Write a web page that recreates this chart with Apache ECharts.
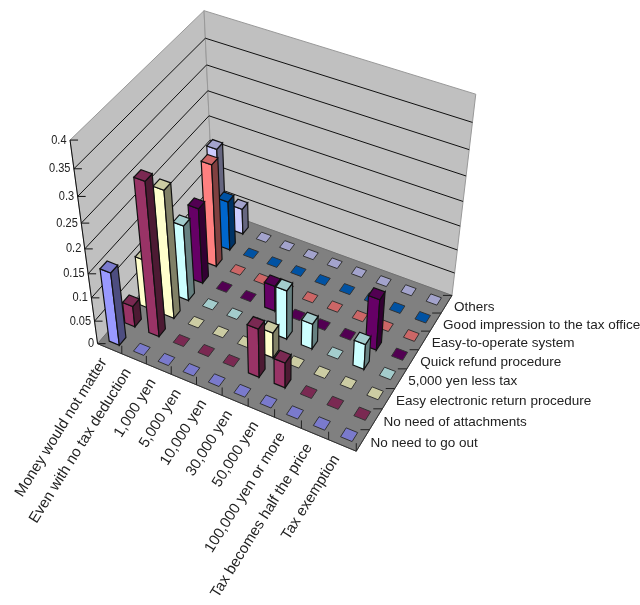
<!DOCTYPE html>
<html>
<head>
<meta charset="utf-8">
<style>html,body{margin:0;padding:0;background:#fff}#chart{width:640px;height:605px}</style>
<script src="https://cdn.jsdelivr.net/npm/echarts@6/dist/echarts.min.js"></script>
</head>
<body>
<div id="chart"></div>
<script>
// Answer categories along the front edge of the floor
var categories = ['Money would not matter', 'Even with no tax deduction', '1,000 yen', '5,000 yen',
  '10,000 yen', '30,000 yen', '50,000 yen', '100,000 yen or more', 'Tax becomes half the price', 'Tax exemption'];

// Reasons along the right edge of the floor, nearest row first
var reasons = ['No need to go out', 'No need of attachments', 'Easy electronic return procedure',
  '5,000 yen less tax', 'Quick refund procedure', 'Easy-to-operate system',
  'Good impression to the tax office', 'Others'];

var noNeedToGoOut    = [0.155, 0, 0, 0, 0, 0, 0, 0, 0, 0];
var noAttachments    = [0.045, 0.315, 0, 0, 0, 0.105, 0.055, 0, 0, 0];
var easyElectronic   = [0.105, 0.265, 0, 0, 0, 0.055, 0, 0, 0, 0];
var lessTax          = [0, 0.16, 0, 0, 0, 0.105, 0.055, 0, 0.055, 0];
var quickRefund      = [0, 0.16, 0, 0, 0.055, 0, 0, 0, 0.11, 0];
var easyToOperate    = [0, 0.215, 0, 0, 0, 0, 0, 0, 0, 0];
var goodImpression   = [0, 0.105, 0, 0, 0, 0, 0, 0, 0, 0];
var others           = [0.165, 0.055, 0, 0, 0, 0, 0, 0, 0, 0];
var rows = [noNeedToGoOut, noAttachments, easyElectronic, lessTax, quickRefund, easyToOperate, goodImpression, others];

var valueTicks = [0, 0.05, 0.1, 0.15, 0.2, 0.25, 0.3, 0.35, 0.4];
var valueTickLabels = ['0', '0.05', '0.1', '0.15', '0.2', '0.25', '0.3', '0.35', '0.4'];
var rowColors = ['#9999FF', '#993366', '#FFFFCC', '#CCFFFF', '#660066', '#FF8080', '#0066CC', '#CCCCFF'];

var valueMax = 0.4;
var barWidth = 0.42;
var FONT_ROW = '13.5px "Liberation Sans", Arial, sans-serif';
var FONT_CATEGORY = '15px "Liberation Sans", Arial, sans-serif';
var FONT_VALUE = '12.5px "Liberation Sans", Arial, sans-serif';

// Camera fit: unit-cube corners and where they land on the page plane
var cameraAnchors = [
  [[0, 0, 0], [97, 343]], [[1, 0, 0], [356, 452]], [[0, 1, 0], [214, 210]], [[1, 1, 0], [452, 294]],
  [[0, 0, 1], [71, 140]], [[0, 1, 1], [203, 10]], [[1, 1, 1], [476, 95]]
];

function solveCamera(anchors) {
  var A = [], b = [];
  anchors.forEach(function (a) {
    var x = a[0][0], y = a[0][1], z = a[0][2], u = a[1][0], v = a[1][1];
    A.push([x, y, z, 1, 0, 0, 0, 0, -u * x, -u * y, -u * z]); b.push(u);
    A.push([0, 0, 0, 0, x, y, z, 1, -v * x, -v * y, -v * z]); b.push(v);
  });
  var n = 11, M = [];
  for (var i = 0; i < n; i++) {
    M.push([]);
    for (var j = 0; j <= n; j++) {
      var s = 0;
      for (var k = 0; k < A.length; k++) s += A[k][i] * (j < n ? A[k][j] : b[k]);
      M[i].push(s);
    }
  }
  for (var c = 0; c < n; c++) {
    var p = c;
    for (var r = c + 1; r < n; r++) if (Math.abs(M[r][c]) > Math.abs(M[p][c])) p = r;
    var t = M[c]; M[c] = M[p]; M[p] = t;
    for (var r2 = 0; r2 < n; r2++) {
      if (r2 === c) continue;
      var f = M[r2][c] / M[c][c];
      for (var q = c; q <= n; q++) M[r2][q] -= f * M[c][q];
    }
  }
  return M.map(function (row, idx) { return row[n] / row[idx]; });
}
var cam = solveCamera(cameraAnchors);

// Category, row and value space to the page plane of the hidden axes
function project(cat, row, value) {
  var x = cat / categories.length, y = row / reasons.length, z = value / valueMax;
  var w = cam[8] * x + cam[9] * y + cam[10] * z + 1;
  return [(cam[0] * x + cam[1] * y + cam[2] * z + cam[3]) / w,
          (cam[4] * x + cam[5] * y + cam[6] * z + cam[7]) / w];
}

function shade(hex, k) {
  var n = parseInt(hex.slice(1), 16);
  var ch = [n >> 16, (n >> 8) & 255, n & 255].map(function (c) { return Math.round(c * k); });
  return 'rgb(' + ch.join(',') + ')';
}

function poly(api, pts, fill, stroke, lw) {
  return {
    type: 'polygon',
    shape: { points: pts.map(function (p) { return api.coord(p); }) },
    style: { fill: fill, stroke: stroke, lineWidth: lw }
  };
}
function line(api, a, b, stroke, lw) {
  var p = api.coord(a), q = api.coord(b);
  return { type: 'line', shape: { x1: p[0], y1: p[1], x2: q[0], y2: q[1] }, style: { stroke: stroke, lineWidth: lw } };
}
function label(api, at, text, font, align, rotation, scaleX) {
  var p = api.coord(at);
  return {
    type: 'text', x: p[0], y: p[1], rotation: rotation || 0, scaleX: scaleX || 1,
    style: { text: text, font: font, fill: '#222', align: align, verticalAlign: 'middle' }
  };
}

// Walls, floor, gridlines, axis lines, ticks and all axis labels
function renderFrame(params, api) {
  var C = categories.length, R = reasons.length, kids = [];
  kids.push(poly(api, [project(0, 0, 0), project(0, R, 0), project(0, R, valueMax), project(0, 0, valueMax)], '#C0C0C0', '#999', 1));
  kids.push(poly(api, [project(0, R, 0), project(C, R, 0), project(C, R, valueMax), project(0, R, valueMax)], '#C0C0C0', '#999', 1));
  kids.push(poly(api, [project(0, 0, 0), project(C, 0, 0), project(C, R, 0), project(0, R, 0)], '#808080', '#707070', 1));

  valueTicks.forEach(function (v, n) {
    if (v > 0 && v < valueMax) {
      kids.push(line(api, project(0, 0, v), project(0, R, v), '#111', 1));
      kids.push(line(api, project(0, R, v), project(C, R, v), '#111', 1));
    }
    var a = project(0, 0, v);
    kids.push(line(api, a, [a[0] + 8, a[1]], '#111', 1));
    kids.push(label(api, [a[0] - 3.5, a[1]], valueTickLabels[n], FONT_VALUE, 'right', 0, 0.88));
  });

  kids.push(line(api, project(0, 0, 0), project(0, 0, valueMax), '#111', 1));
  kids.push(line(api, project(0, 0, 0), project(C, 0, 0), '#333', 1));
  kids.push(line(api, project(C, 0, 0), project(C, R, 0), '#333', 1));

  for (var i = 1; i <= C; i++) {
    var e = project(i, 0, 0);
    kids.push(line(api, e, [e[0], e[1] - 8], '#222', 1));
  }
  for (var j = 1; j <= R; j++) {
    var g = project(C, j, 0);
    kids.push(line(api, g, [g[0] - 9, g[1]], '#222', 1));
  }
  categories.forEach(function (name, i) {
    var m = project(i + 0.5, 0, 0);
    kids.push(label(api, [m[0] - 6, m[1] + 11], name, FONT_CATEGORY, 'right', 58 * Math.PI / 180));
  });
  reasons.forEach(function (name, j) {
    var m = project(C, j + 0.5, 0);
    kids.push(label(api, [m[0] + 7.5, m[1] + 3], name, FONT_ROW, 'left'));
  });
  return { type: 'group', children: kids };
}

// One box per cell: a zero value leaves only its flat top
function renderBar(params, api) {
  var cat = api.value(0), row = api.value(1), val = api.value(2);
  var base = rowColors[row];
  var pad = (1 - barWidth) / 2;
  var x0 = cat + pad, x1 = cat + 1 - pad, y0 = row + pad, y1 = row + 1 - pad;
  var kids = [];
  if (val > 0) {
    kids.push(poly(api, [project(x0, y0, 0), project(x1, y0, 0), project(x1, y0, val), project(x0, y0, val)], base, '#111', 1.2));
    kids.push(poly(api, [project(x1, y0, 0), project(x1, y1, 0), project(x1, y1, val), project(x1, y0, val)], shade(base, 0.5), '#111', 1.2));
  }
  kids.push(poly(api, [project(x0, y0, val), project(x1, y0, val), project(x1, y1, val), project(x0, y1, val)], shade(base, 0.8), val > 0 ? '#111' : '#333', val > 0 ? 1.2 : 1));
  return { type: 'group', children: kids };
}

var series = [{
  type: 'custom', name: 'frame', coordinateSystem: 'cartesian2d', silent: true,
  renderItem: renderFrame, data: [[0, 0]], clip: false
}];
// Rows go in from the back so that nearer boxes paint over farther ones
for (var r = reasons.length - 1; r >= 0; r--) {
  series.push({
    type: 'custom', name: reasons[r], coordinateSystem: 'cartesian2d', silent: true,
    renderItem: renderBar, clip: false,
    encode: { x: 0, y: 1 },
    data: rows[r].map(function (v, c) { return [c, r, v]; })
  });
}

var chart = echarts.init(document.getElementById('chart'), null, { renderer: 'canvas' });
chart.setOption({
  animation: false,
  backgroundColor: '#fff',
  grid: { left: 0, right: 0, top: 0, bottom: 0 },
  xAxis: { type: 'value', min: 0, max: 640, show: false },
  yAxis: { type: 'value', min: 0, max: 605, inverse: true, show: false },
  series: series
});
</script>
</body>
</html>
